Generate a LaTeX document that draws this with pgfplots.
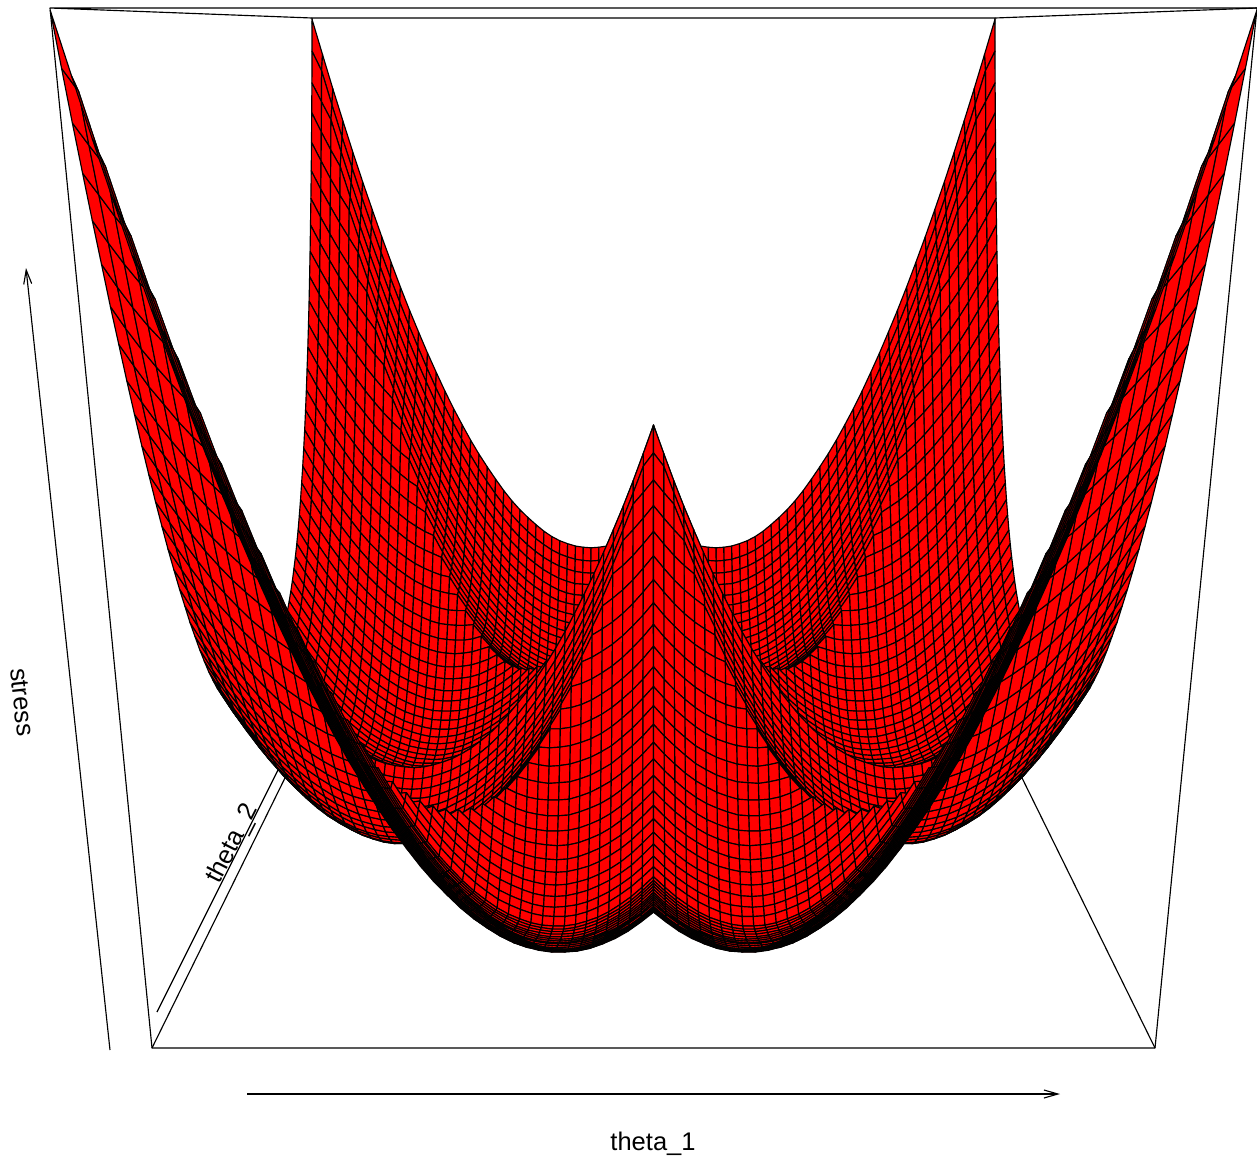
\documentclass[border=0pt]{standalone}
\usepackage{fontspec}
\setmainfont{Liberation Sans}
\usepackage{pgfplots}
\usepackage{pgfplotstable}
\pgfplotsset{compat=1.18}
\usetikzlibrary{arrows.meta}

% stress in thousandths, left half of the surface: 81 rows back to front, 41 values per row from theta_1 edge to centre
\pgfplotstableread{
z
998
948
899
852
806
762
720
679
640
602
566
532
499
468
438
410
384
359
336
315
295
276
259
244
231
219
208
199
192
187
183
181
180
181
183
187
193
200
209
219
231
953
925
876
829
784
740
698
657
618
581
545
511
478
447
418
390
364
339
316
295
275
257
240
225
212
200
190
181
174
169
165
163
162
163
166
170
176
183
192
203
215
908
881
855
808
763
719
677
637
598
561
525
491
459
428
399
371
345
321
298
277
257
239
222
207
194
183
173
165
158
153
149
147
146
147
150
155
161
168
177
188
200
866
838
812
788
743
700
658
618
579
542
506
472
440
410
381
353
327
303
280
259
240
222
205
191
178
167
157
149
142
137
133
132
131
132
135
140
146
154
163
174
187
824
797
771
747
725
682
640
600
561
524
489
455
423
393
364
337
311
287
264
243
224
206
190
176
163
152
142
134
127
122
119
118
118
119
122
127
133
141
151
162
175
784
757
732
708
686
664
623
583
545
508
473
439
407
377
349
322
296
272
249
229
210
192
176
162
149
138
129
121
114
110
107
106
106
107
110
115
122
130
140
151
164
745
718
693
669
647
626
607
567
529
492
457
424
392
362
334
307
281
257
235
215
196
179
163
149
136
125
116
108
102
98
95
94
94
96
99
104
111
119
129
140
153
708
681
656
632
610
590
571
552
515
478
443
410
379
349
321
294
268
245
223
203
184
167
151
137
125
114
105
98
92
88
85
84
84
86
89
95
102
110
120
132
145
671
645
620
596
574
554
535
517
501
465
430
397
366
336
308
281
256
233
211
191
173
156
140
126
114
104
95
88
82
78
75
74
74
76
80
86
93
102
112
124
137
636
610
586
562
540
520
501
484
468
453
419
386
355
325
297
271
246
223
201
181
163
146
131
117
105
95
86
79
74
70
67
66
67
69
73
79
86
95
105
117
131
602
576
552
529
507
487
468
451
435
421
408
375
344
315
287
261
236
213
192
172
154
137
122
109
97
87
78
71
66
62
59
59
60
63
67
73
80
89
99
111
125
570
544
520
497
475
455
437
420
404
390
377
366
335
306
278
252
228
205
184
165
147
130
115
102
90
80
71
64
59
56
53
53
54
57
61
67
75
84
95
107
121
539
513
489
466
445
425
407
390
375
361
348
337
328
299
271
245
221
198
177
158
140
124
109
96
84
74
66
59
54
51
49
49
50
53
57
63
71
81
92
104
118
510
484
460
438
417
397
379
362
347
333
321
310
301
292
265
239
215
193
172
153
135
119
104
91
80
70
62
56
51
48
46
46
47
50
55
61
69
79
90
102
117
481
456
432
410
389
369
351
335
320
306
294
283
274
266
260
234
210
188
167
148
130
114
100
87
76
67
59
53
48
45
43
43
45
48
53
60
68
77
88
101
116
454
429
406
384
363
343
325
309
295
281
269
258
249
242
236
230
207
185
164
145
128
112
98
85
74
65
57
51
47
44
42
42
44
48
53
60
68
78
89
102
117
428
403
380
358
337
318
300
284
270
256
244
234
225
218
212
207
204
182
162
143
126
110
96
84
73
64
56
50
46
43
42
42
44
48
53
60
69
79
90
103
118
404
379
356
334
314
295
277
261
247
234
222
212
203
196
190
186
183
181
161
143
126
110
96
84
73
64
57
51
47
44
43
43
46
50
55
62
71
81
93
106
121
381
356
333
311
291
272
255
239
225
212
200
190
182
175
169
165
162
161
161
143
126
111
97
85
74
65
58
53
49
46
45
46
49
53
58
65
74
84
96
110
125
360
335
312
291
271
252
235
219
205
192
181
171
163
156
150
146
144
143
143
144
128
113
99
88
77
68
61
56
52
50
49
50
53
57
62
70
79
90
102
116
131
339
315
292
271
251
232
215
200
186
173
162
152
144
137
132
128
126
125
125
127
131
116
102
91
81
72
65
60
56
54
54
55
58
62
68
76
85
96
108
122
137
320
296
274
253
233
214
198
183
169
156
145
135
127
121
116
112
110
109
110
112
116
120
107
96
86
77
71
66
62
60
60
61
64
69
75
83
92
103
115
129
145
302
278
256
235
215
197
181
166
152
139
128
119
111
105
100
96
94
94
95
97
101
106
113
101
91
83
77
72
69
67
67
68
71
76
82
90
100
111
123
137
153
286
262
240
219
200
182
166
151
137
125
114
105
97
91
86
83
81
81
82
84
88
94
101
108
99
91
85
80
77
75
75
77
80
85
91
99
109
121
133
148
164
271
247
225
204
185
167
151
136
123
111
100
91
84
78
73
70
68
68
69
72
76
82
89
97
107
99
93
89
86
84
84
86
90
95
101
109
119
131
144
159
175
258
234
212
191
172
155
139
124
111
99
89
80
73
67
62
59
58
58
59
62
66
72
79
88
98
109
103
99
96
95
95
97
101
106
113
121
131
143
156
171
187
245
222
200
179
160
143
127
112
99
88
78
69
62
56
52
49
48
48
49
52
57
63
70
79
89
101
114
110
107
106
107
109
113
118
125
134
144
156
169
184
200
234
211
189
169
150
133
117
103
90
79
69
60
53
48
44
41
40
40
41
45
50
56
63
72
82
94
108
122
120
119
120
122
126
132
139
148
158
170
184
199
215
224
201
179
159
141
124
108
94
81
70
60
52
45
40
36
33
32
32
34
38
43
49
57
66
76
88
102
117
134
133
134
136
140
146
153
162
173
185
199
214
231
215
193
171
151
133
116
101
87
75
63
53
45
39
34
30
27
26
27
29
33
38
44
52
61
72
84
98
113
130
148
150
152
156
162
170
179
190
202
216
231
248
208
186
165
145
127
110
95
81
69
58
48
40
34
29
25
23
22
23
25
29
34
41
49
58
69
81
95
111
128
146
166
169
173
179
187
196
207
219
233
249
266
202
180
159
140
122
105
90
76
64
53
44
36
30
25
22
20
19
20
22
26
32
39
47
56
67
80
94
110
127
145
165
186
191
197
205
214
225
238
252
268
285
198
176
155
136
118
102
87
73
61
50
41
33
27
23
20
18
17
18
21
25
31
38
46
56
67
80
94
110
127
146
166
187
210
216
224
234
245
258
273
289
306
195
173
153
134
116
100
85
72
60
49
40
33
27
22
19
18
17
18
21
25
31
38
47
57
68
81
96
112
129
148
168
190
213
237
245
255
267
280
294
311
328
193
171
151
132
114
98
84
71
59
49
40
33
27
22
19
18
18
19
22
26
32
39
48
58
70
83
98
114
131
150
171
193
216
241
267
277
289
302
316
333
351
192
171
151
132
114
98
84
71
60
50
41
34
28
24
21
20
20
22
25
29
35
42
51
62
74
87
102
118
135
154
175
197
221
246
272
300
312
325
340
357
375
193
172
152
133
116
100
86
73
62
52
43
36
31
27
24
23
24
26
29
34
40
47
56
67
79
92
107
123
141
160
181
203
227
252
279
307
336
350
365
382
400
195
174
154
136
119
103
89
76
65
56
47
40
35
31
29
28
29
31
34
39
45
53
62
73
85
99
114
130
148
167
188
211
235
260
287
315
345
376
391
408
426
199
178
158
140
123
108
94
81
70
61
53
46
41
37
35
34
35
37
40
45
52
60
69
80
93
107
122
139
157
176
197
220
244
269
296
325
355
386
419
436
454
204
183
163
146
129
114
100
88
77
68
60
53
48
45
43
42
43
45
49
54
61
69
78
89
102
116
132
149
167
186
207
230
255
280
307
336
366
397
430
464
483
210
189
170
152
135
120
107
95
84
75
67
61
56
53
51
50
51
54
58
63
70
78
88
99
112
126
142
159
177
197
218
241
266
292
319
348
378
409
442
477
513
202
181
162
144
127
112
98
86
75
66
58
52
46
43
41
40
41
44
48
53
60
67
77
88
101
115
131
148
166
186
207
230
254
280
307
335
365
397
430
464
481
196
175
155
137
120
105
91
79
68
59
50
44
38
35
33
32
33
35
39
44
50
58
68
79
91
105
121
138
156
176
197
219
243
269
296
324
354
386
419
434
450
191
170
150
132
115
100
86
73
62
53
44
38
32
29
27
26
26
28
32
37
43
51
61
72
84
97
113
130
148
167
188
211
235
260
287
315
345
376
390
405
421
187
166
146
127
110
95
81
68
57
47
39
32
27
23
21
20
20
22
25
30
37
45
54
65
77
90
105
122
140
159
180
203
227
252
279
307
337
348
361
376
392
185
164
144
125
108
92
78
65
54
44
36
29
24
20
17
16
16
18
21
26
33
40
49
60
72
85
100
117
135
154
175
197
221
246
273
300
310
321
334
349
365
184
162
142
123
106
90
76
63
52
42
33
26
21
17
14
13
13
15
18
23
29
36
45
56
68
81
96
112
130
149
170
192
215
240
267
275
284
295
308
323
339
185
163
143
124
106
90
76
63
52
42
33
25
20
16
13
12
12
13
16
21
27
34
43
53
65
78
93
109
127
146
167
189
212
237
243
251
260
271
284
298
314
187
165
145
126
108
92
77
64
53
43
34
26
20
16
13
12
12
13
16
20
26
33
42
52
64
77
92
108
125
144
165
187
210
214
220
228
237
248
261
275
291
190
168
148
129
111
95
80
67
55
45
36
28
22
18
15
13
13
14
17
21
27
34
43
53
64
77
92
108
125
144
165
186
188
192
198
206
215
226
238
252
268
195
173
152
133
115
99
84
71
59
48
39
32
26
21
18
16
16
17
20
24
30
37
45
55
66
79
94
110
127
146
166
166
168
172
178
185
194
205
217
231
247
201
179
158
139
121
105
90
76
64
53
44
37
31
26
22
20
20
21
24
28
34
40
48
58
69
82
97
113
130
148
147
148
150
154
159
166
175
186
198
212
227
209
187
166
146
128
112
97
83
71
60
51
43
37
32
28
26
26
27
29
33
39
45
53
63
74
87
101
117
134
131
129
130
132
136
141
148
156
167
179
193
208
218
196
175
155
137
120
105
91
79
68
59
51
44
39
35
33
33
34
36
40
45
52
60
69
80
93
107
122
118
115
113
114
115
119
124
131
139
150
162
175
190
229
206
185
165
147
130
115
101
88
77
68
60
53
48
44
42
41
42
44
48
53
60
68
77
88
100
114
107
102
99
98
98
99
103
108
115
123
133
145
158
173
241
218
197
177
158
142
126
112
100
88
79
71
64
59
55
53
52
52
54
58
63
69
77
86
97
109
101
94
89
86
84
84
85
89
94
100
108
118
130
143
158
254
231
210
190
171
154
139
125
112
101
91
82
75
70
66
64
63
63
65
68
73
79
87
96
107
97
88
81
76
73
71
71
72
75
80
86
94
104
116
129
143
269
246
225
205
186
169
153
139
126
115
105
96
89
84
80
77
76
76
78
81
86
92
100
108
97
86
77
70
65
62
60
59
60
63
68
74
82
92
103
116
130
285
262
240
220
201
184
168
154
141
129
119
110
103
98
94
91
90
90
91
94
99
105
113
99
87
76
67
60
55
51
49
48
49
52
57
63
71
80
91
104
118
303
280
258
238
219
201
185
171
158
146
136
127
120
114
110
107
106
106
107
110
115
120
105
91
79
68
59
52
46
42
40
39
40
43
47
53
61
70
81
94
108
322
298
276
256
237
219
203
188
175
163
153
144
137
131
127
124
122
122
123
126
131
113
97
83
71
60
51
44
38
34
31
30
31
34
38
44
51
60
71
84
98
343
319
297
276
257
239
223
208
195
183
173
164
156
150
146
143
141
141
142
144
126
108
92
78
65
54
45
38
32
27
24
23
24
27
31
37
44
53
63
76
90
364
340
318
297
278
260
244
229
215
203
193
184
176
170
165
162
160
160
161
140
121
103
87
73
60
49
39
32
26
21
18
17
18
20
24
30
37
46
56
68
82
388
364
341
320
301
283
267
252
238
226
215
206
198
192
187
184
182
181
158
137
118
100
84
69
56
45
35
28
22
17
14
13
13
15
19
25
32
41
51
63
76
412
388
365
344
325
307
290
275
261
249
238
229
221
215
210
206
204
179
156
135
115
97
81
66
53
42
32
24
18
13
10
9
9
11
15
20
27
36
46
58
71
438
415
392
372
353
335
319
304
290
278
268
259
251
246
241
237
211
186
162
141
121
103
87
72
59
47
37
29
23
18
15
13
13
15
19
24
31
39
49
61
74
465
442
420
400
381
364
348
333
320
308
298
289
282
277
273
245
218
193
169
148
128
110
93
78
65
53
43
35
28
23
20
18
18
20
23
28
35
43
53
65
78
494
472
450
430
411
395
379
365
352
341
331
322
316
310
280
252
225
200
176
154
134
116
99
84
71
59
49
40
33
28
25
23
23
24
27
32
39
47
57
69
82
524
502
481
461
442
426
411
397
385
374
364
356
350
318
287
259
232
207
183
161
141
123
106
91
77
65
55
46
39
34
30
28
28
29
32
37
44
52
61
73
86
556
534
514
494
476
460
445
432
420
409
400
391
358
326
295
267
240
215
191
169
148
130
113
98
84
72
61
52
45
40
36
34
33
34
37
42
49
57
66
77
90
589
567
547
528
510
494
480
467
455
445
436
401
367
335
304
275
248
223
199
177
156
137
120
105
91
79
68
59
52
46
42
40
39
40
43
48
54
62
71
82
95
624
603
583
564
547
531
517
504
493
482
445
410
376
343
312
283
256
231
207
185
164
145
127
112
98
86
75
66
58
52
48
46
45
46
49
53
59
67
76
87
100
660
639
619
601
584
569
555
542
531
492
455
419
385
352
321
292
265
239
215
193
172
153
135
119
105
93
82
73
65
59
55
53
52
53
55
59
65
72
81
92
105
698
677
657
640
623
608
595
581
541
502
464
428
394
361
330
301
273
247
223
201
180
161
143
127
112
100
89
80
72
66
61
59
58
59
61
65
71
78
87
97
110
736
715
696
679
663
648
635
592
551
512
474
438
403
370
339
310
282
256
232
209
188
169
151
135
120
107
96
87
79
73
68
65
64
65
67
71
77
84
93
103
115
777
756
737
720
705
689
645
602
561
522
484
448
413
380
348
319
291
265
240
217
196
177
159
143
128
115
103
94
86
80
75
72
71
71
73
77
83
90
98
108
120
818
798
779
762
747
701
656
613
571
532
494
458
423
390
358
328
300
274
249
226
205
185
167
151
136
123
111
102
94
88
83
80
78
78
80
84
89
96
104
114
126
861
842
823
806
758
712
667
624
582
542
504
468
433
400
368
338
310
284
259
236
214
194
176
160
145
131
119
110
102
95
90
87
85
85
87
91
96
103
111
121
132
905
886
868
818
770
723
678
635
593
553
515
479
444
411
379
349
320
294
269
246
224
204
185
169
154
140
128
118
110
103
98
95
93
93
95
98
103
110
118
128
139
951
932
880
830
782
735
690
646
604
564
526
489
454
421
389
359
330
304
279
255
233
213
194
178
163
149
137
127
118
111
106
103
101
101
102
105
110
117
125
135
146
998
945
893
843
794
747
702
658
616
576
537
500
465
432
400
370
341
314
289
265
243
223
204
187
172
158
146
136
127
120
115
111
109
109
110
113
118
124
132
142
153
}\zdata

\begin{document}
\begin{tikzpicture}
\useasboundingbox (0,0) rectangle (1257pt,1160pt);
\begin{axis}[
    at={(0,0)}, anchor=south west,
    scale only axis, width=1257pt, height=1160pt,
    xmin=0, xmax=1257, ymin=0, ymax=1160,
    y dir=reverse,
    hide axis,
    colormap={allred}{color=(red) color=(red)},
    point meta min=0, point meta max=1,
    declare function={
        vv(\i)=1-(\i-mod(\i,41))/3280;
        uu(\i)=1-mod(\i,41)/40;
        dd(\i,\z)=1+0.6375*vv(\i)-0.000169*\z;
        yy(\i,\z)=(1048+19.8*vv(\i)-1.04135*\z)/dd(\i,\z);
    },
    every axis plot/.append style={line width=1.15pt, black, line join=round},
]

% box behind the surface
\addplot[no markers] coordinates {(152,1048) (347,652) (312,18) (995,18) (960,652) (1155,1048)};
\addplot[no markers] coordinates {(347,652) (960,652)};

% theta_2 arrow, runs behind the surface
\addplot[no markers] coordinates {(157,1012) (300,726)};
\node[font=\fontsize{25.5}{30}\selectfont, rotate=63] at (axis cs:233,844) {theta\_2};

% surface, each half drawn outer cells first
\addplot[surf, shader=faceted, faceted color=black, mesh/cols=41, mesh/rows=81, point meta=0]
    table[x index=0, y index=0,
          x expr={653.5-501.5*uu(\coordindex)/dd(\coordindex,\thisrow{z})},
          y expr={yy(\coordindex,\thisrow{z})}] {\zdata};
\addplot[surf, shader=faceted, faceted color=black, mesh/cols=41, mesh/rows=81, point meta=0]
    table[x index=0, y index=0,
          x expr={653.5+501.5*uu(\coordindex)/dd(\coordindex,\thisrow{z})},
          y expr={yy(\coordindex,\thisrow{z})}] {\zdata};

% front of the box
\addplot[no markers] coordinates {(50,8) (1257,8) (1155,1048) (152,1048) (50,8) (312,18)};
\addplot[no markers] coordinates {(1257,8) (995,18)};

% arrows and labels
\addplot[no markers, -{Straight Barb[length=14pt,width=8pt]}] coordinates {(247,1094) (1060,1094)};
\addplot[no markers, -{Straight Barb[length=14pt,width=8pt]}] coordinates {(110,1050) (26,268)};
\node[font=\fontsize{25.5}{30}\selectfont] at (axis cs:653,1144) {theta\_1};
\node[font=\fontsize{25.5}{30}\selectfont, rotate=-84] at (axis cs:22,702) {stress};
\end{axis}
\end{tikzpicture}
\end{document}
